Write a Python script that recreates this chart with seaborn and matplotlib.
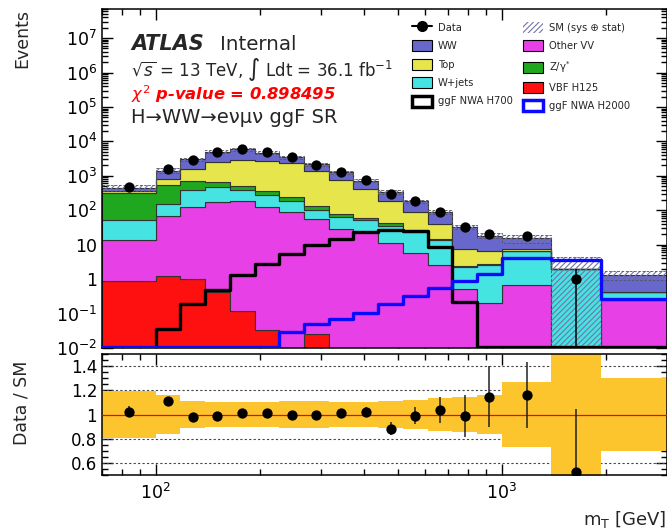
import numpy as np
import pandas as pd
import matplotlib
matplotlib.use("Agg")
import matplotlib.pyplot as plt
from matplotlib.patches import Patch
from matplotlib.lines import Line2D
from matplotlib.ticker import (FixedLocator, FuncFormatter, LogLocator,
                               NullFormatter, MultipleLocator, FormatStrFormatter)
import seaborn as sns

# ---------------- data ----------------
bin_edges = [70, 100, 117.9, 139.0, 163.8, 193.1, 227.6, 268.3, 316.2, 372.8,
             439.4, 517.9, 610.5, 719.7, 848.3, 1000, 1390, 1930, 3000]

ww       = [90, 620, 1420, 2550, 3000, 1950, 1160, 770, 520, 325, 165, 91, 46.5, 26, 11.8, 7.8, 0, 0.88]
top      = [50, 250, 860, 1780, 2430, 2390, 2064, 1247, 690, 345, 136, 64, 26, 5.0, 3.7, 1.0, 0, 0]
zgamma   = [258, 389, 335, 205, 130, 85, 46, 33, 15, 8, 8, 3, 1.5, 0.1, 0.25, 0.1, 0, 0]
wjets    = [38.5, 82, 259, 288, 210, 149, 99, 46, 37, 28, 25, 18, 11, 1.8, 2.35, 5.9, 1.92, 0.18]
other_vv = [12.6, 67.75, 125, 176.6, 180, 126, 91, 54, 28, 24, 11, 5.6, 2.55, 0.5, 0.2, 0.67, 0, 0.25]
vbf_h125 = [0.9, 1.25, 1.0, 0.41, 0.12, 0.034, 0, 0.026, 0, 0, 0, 0, 0, 0, 0, 0, 0, 0]

data     = [461, 1570, 2934, 4920, 6027, 4761, 3432, 2133, 1303, 745, 305, 180, 91, 33, 21, 18, 1, 0]
data_err = [21.5, 39.6, 54, 70, 78, 69, 58.6, 46, 36, 27.3, 17.5, 13.4, 9.5, 5.7, 4.6, 4.2, 1.0, 0]

# relative SM uncertainty (sys + stat), up / down
sm_rel_up = [0.195, 0.165, 0.11, 0.105, 0.10, 0.105, 0.11, 0.11, 0.10, 0.103, 0.115, 0.12, 0.135, 0.145, 0.16, 0.27, 1.25, 0.30]
sm_rel_dn = [0.195, 0.165, 0.11, 0.105, 0.10, 0.105, 0.11, 0.11, 0.10, 0.103, 0.115, 0.12, 0.135, 0.145, 0.16, 0.27, 1.00, 0.30]

h700  = [0, 0.035, 0.19, 0.48, 1.35, 2.7, 5.3, 9.7, 14.5, 23, 26, 24.5, 8.5, 0.22, 0.0108, 0.0108, 0.0108, 0.0108]
h2000 = [0.0108, 0.0108, 0.0108, 0.0108, 0.0108, 0.0108, 0.03, 0.051, 0.068, 0.107, 0.195, 0.33, 0.57, 0.89, 1.37, 4.1, 3.7, 0.27]

y_major_ticks = [1e-2, 1e-1, 1, 10, 1e2, 1e3, 1e4, 1e5, 1e6, 1e7]
ratio_ticks = [0.6, 0.8, 1.0, 1.2, 1.4]

processes = ["WW", "Top", "Z/γ*", "W+jets", "Other VV", "VBF H125"]   # top of stack -> bottom
process_values = [ww, top, zgamma, wjets, other_vv, vbf_h125]
colors = {"WW": "#6767cc", "Top": "#e6e64c", "Z/γ*": "#1fa81f",
          "W+jets": "#45e4e2", "Other VV": "#e640e6", "VBF H125": "#ff1010"}
band_color = "#fcc52e"
hatch_color = "#7474a8"

# ---------------- derived ----------------
edges = np.array(bin_edges, dtype=float)
log_bins = [float(v) for v in np.log10(edges)]
centers = np.sqrt(edges[:-1] * edges[1:])
nb = len(centers)
stack_df = pd.DataFrame({
    "mT": np.tile(centers, len(processes)),
    "events": np.concatenate([np.asarray(v, float) for v in process_values]),
    "process": np.repeat(processes, nb),
})
sm_total = np.sum([np.asarray(v, float) for v in process_values], axis=0)
data_a = np.asarray(data, float)
derr_a = np.asarray(data_err, float)
up = np.asarray(sm_rel_up)
dn = np.asarray(sm_rel_dn)


def ext(a):
    a = np.asarray(a, float)
    return np.append(a, a[-1])


# ---------------- style ----------------
sns.set_theme(style="ticks")
plt.rcParams["font.family"] = ["DejaVu Sans"]
plt.rcParams["mathtext.fontset"] = "dejavusans"
plt.rcParams["hatch.linewidth"] = 0.8
plt.rcParams["axes.linewidth"] = 1.1
plt.rcParams["axes.edgecolor"] = "black"

fig = plt.figure(figsize=(6.67, 5.32), dpi=100)
W, H = 667.0, 532.0
ax = fig.add_axes([102 / W, 1 - 348 / H, (667 - 102) / W, (348 - 9) / H])
rax = fig.add_axes([102 / W, 1 - 475 / H, (667 - 102) / W, (475 - 354) / H], sharex=ax)

# stacked backgrounds
sns.histplot(data=stack_df, x="mT", weights="events", hue="process",
             hue_order=processes, palette=colors, multiple="stack",
             bins=log_bins, element="step", fill=True, alpha=1,
             edgecolor="#333333", linewidth=0.8, log_scale=True,
             legend=False, ax=ax, zorder=1)
ax.set_yscale("log")

# SM uncertainty band (hatched)
sm_lo = sm_total * (1 - dn)
sm_hi = sm_total * (1 + up)
ax.fill_between(edges, ext(sm_lo), ext(sm_hi), step="post", facecolor="none",
                edgecolor=hatch_color, hatch="//////", linewidth=0, zorder=2)
ax.step(edges, ext(sm_hi), where="post", color="#555555", lw=0.6,
        ls=(0, (3, 2)), zorder=2)
ax.step(edges, ext(sm_lo), where="post", color="#555555", lw=0.6,
        ls=(0, (3, 2)), zorder=2)

# signals
sns.histplot(x=centers, weights=h700, bins=log_bins, element="step",
             fill=False, color="black", linewidth=2.4, log_scale=True,
             ax=ax, zorder=3)
sns.histplot(x=centers, weights=h2000, bins=log_bins, element="step",
             fill=False, color="#0a0aff", linewidth=2.4, log_scale=True,
             ax=ax, zorder=3)

# data
m = data_a > 0
ax.errorbar(centers[m], data_a[m], yerr=derr_a[m], fmt="none", ecolor="black",
            elinewidth=1.1, zorder=5)
sns.scatterplot(x=centers[m], y=data_a[m], color="black", s=55, linewidth=0,
                ax=ax, zorder=6)

ax.set_xlim(70, 3000)
ax.set_ylim(0.01, 7e7)
ax.set_xlabel("")
ax.set_ylabel("")


def ylog_fmt(v, pos):
    e = int(round(np.log10(v)))
    if e == 0:
        return "1"
    if e == 1:
        return "10"
    return r"$10^{%d}$" % e


ax.yaxis.set_major_locator(FixedLocator(y_major_ticks))
ax.yaxis.set_minor_locator(LogLocator(base=10, subs=np.arange(2, 10), numticks=300))
ax.yaxis.set_major_formatter(FuncFormatter(ylog_fmt))
ax.yaxis.set_minor_formatter(NullFormatter())
ax.xaxis.set_major_locator(LogLocator(base=10, numticks=10))
ax.xaxis.set_minor_locator(LogLocator(base=10, subs=np.arange(2, 10), numticks=30))

for a in (ax, rax):
    a.tick_params(which="both", direction="in", top=True, right=True,
                  width=1.0, colors="black")
    a.tick_params(which="major", length=8)
    a.tick_params(which="minor", length=4)
ax.tick_params(axis="y", labelsize=12.5, pad=3.5)
ax.tick_params(axis="x", labelbottom=False)

# ---------------- ratio panel ----------------
for v in [0.6, 0.8, 1.2, 1.4]:
    rax.axhline(v, color="#444444", lw=0.8, ls=(0, (2, 2)), zorder=1)
rax.fill_between(edges, ext(1 - dn), ext(1 + up), step="post",
                 color=band_color, lw=0, zorder=2)
rax.axhline(1.0, color="red", lw=0.9, zorder=3)
ratio = data_a / sm_total
ratio_err = derr_a / sm_total
rax.errorbar(centers[m], ratio[m], yerr=ratio_err[m], fmt="none",
             ecolor="#222222", elinewidth=1.1, zorder=5)
sns.scatterplot(x=centers[m], y=ratio[m], color="black", s=55, linewidth=0,
                ax=rax, zorder=6)
rax.set_ylim(0.5, 1.5)
rax.set_xlim(70, 3000)
rax.yaxis.set_major_locator(FixedLocator(ratio_ticks))
rax.yaxis.set_major_formatter(FormatStrFormatter("%g"))
rax.yaxis.set_minor_locator(MultipleLocator(0.05))
rax.tick_params(axis="y", labelsize=12, pad=3.5)
rax.tick_params(axis="x", labelsize=12.5, pad=6)
rax.set_xlabel("")
rax.set_ylabel("")

# axis titles
fig.text(22 / W, 1 - 9 / H, "Events", rotation=90, ha="center", va="top", fontsize=12.5)
fig.text(22 / W, 1 - 403 / H, "Data / SM", rotation=90, ha="center", va="center", fontsize=12.5)
fig.text(666 / W, 1 - 520 / H, r"m$_{\mathrm{T}}$ [GeV]", ha="right", va="center", fontsize=13)

# annotations
fig.text(131 / W, 1 - 50 / H, "ATLAS", fontsize=15, weight="bold", style="italic")
fig.text(220 / W, 1 - 50 / H, "Internal", fontsize=14.3)
fig.text(131 / W, 1 - 76 / H, r"$\sqrt{s}$ = 13 TeV, $\int$ Ldt = 36.1 fb$^{-1}$", fontsize=12)
fig.text(131 / W, 1 - 100 / H, r"$\chi^{2}$ p-value = 0.898495", fontsize=11.8,
         color="red", weight="bold", style="italic")
fig.text(131 / W, 1 - 123 / H, "H→WW→eνμν ggF SR", fontsize=14)

# legend
h_data = Line2D([], [], color="black", marker="o", ms=7, lw=1.5)
h_sm = Patch(facecolor="white", edgecolor=hatch_color, hatch="//////", lw=0)
def box(c):
    return Patch(facecolor=c, edgecolor="black", lw=0.8)
h_h700 = Patch(facecolor="white", edgecolor="black", lw=2.5)
h_h2000 = Patch(facecolor="white", edgecolor="#0a0aff", lw=2.5)
handles = [h_data, box(colors["WW"]), box(colors["Top"]), box(colors["W+jets"]), h_h700,
           h_sm, box(colors["Other VV"]), box(colors["Z/γ*"]), box(colors["VBF H125"]), h_h2000]
labels = ["Data", "WW", "Top", "W+jets", "ggF NWA H700",
          "SM (sys ⊕ stat)", "Other VV", r"Z/γ$^{*}$", "VBF H125", "ggF NWA H2000"]
fig.legend(handles, labels, ncol=2, loc="upper left",
           bbox_to_anchor=(412 / W, 1 - 22 / H), bbox_transform=fig.transFigure,
           frameon=False, fontsize=7.2, borderpad=0, borderaxespad=0,
           handlelength=2.0, handleheight=1.3, handletextpad=0.6,
           labelspacing=0.75, columnspacing=1.0)

fig.savefig("out.png", dpi=100)
